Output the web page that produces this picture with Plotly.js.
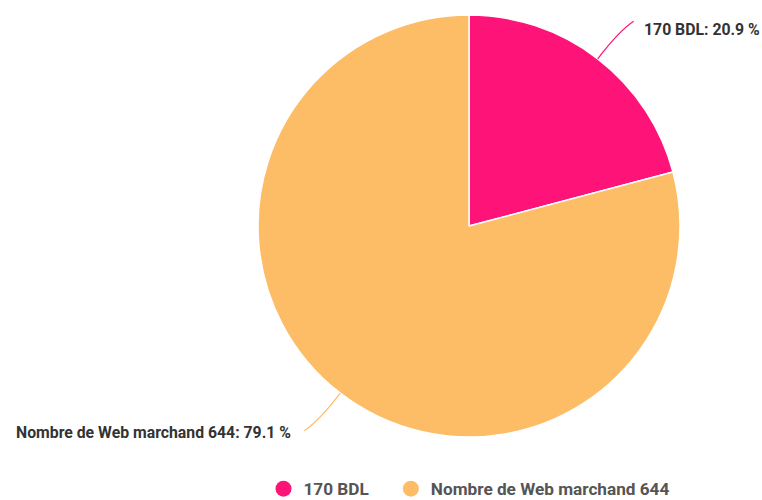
<!DOCTYPE html>
<html><head><meta charset="utf-8">
<script src="https://cdn.plot.ly/plotly-3.0.1.min.js"></script>
<style>html,body{margin:0;padding:0;background:#fff;}#chart{width:762px;height:500px;}</style>
</head><body><div id="chart"></div>
<script>
const labels = ["170 BDL", "Nombre de Web marchand 644"];
const values = [170, 644];
const colors = ["#FE1478", "#FDBD66"];

const W = 762, H = 500;
const M = {l: 258, r: 82, t: 15, b: 63, autoexpand: false};
const pw = W - M.l - M.r, ph = H - M.t - M.b;
const cx = M.l + pw / 2, cy = M.t + ph / 2, R = Math.min(pw, ph) / 2;
const px = x => (x - M.l) / pw;
const py = y => 1 - (y - M.t) / ph;

const total = values.reduce((a, b) => a + b, 0);
const shapes = [], annotations = [];
let cum = 0;
values.forEach((v, i) => {
  const frac = v / total;
  const mid = (cum + frac / 2) * 2 * Math.PI;
  cum += frac;
  const s = Math.sin(mid), c = Math.cos(mid);
  const x0 = cx + R * s, y0 = cy - R * c;
  const xc = cx + (R + 36) * s, yc = cy - (R + 36) * c;
  const right = s >= 0;
  const xe = xc + (right ? 14 : -14), ye = yc + (right ? -9 : 9);
  shapes.push({
    type: "path", xref: "paper", yref: "paper",
    path: `M ${px(x0)},${py(y0)} Q ${px(xc)},${py(yc)} ${px(xe)},${py(ye)}`,
    line: {color: colors[i], width: 1.2}
  });
  const pct = (frac * 100).toFixed(1);
  annotations.push({
    xref: "paper", yref: "paper", x: px(xe + (right ? 8 : -11)), y: py(ye + (right ? 8 : 2)),
    xanchor: right ? "left" : "right", yanchor: "middle", showarrow: false,
    text: `<b>${labels[i]}: ${pct} %</b>`,
    font: {family: "Roboto", size: 15.8, color: "#333333"}
  });
});

const traces = [{
  type: "pie", labels: labels, values: values, sort: false, direction: "clockwise",
  rotation: 0, textinfo: "none", hoverinfo: "label+value+percent", showlegend: false,
  marker: {colors: colors, line: {color: "#ffffff", width: 1.5}}
}];
labels.forEach((l, i) => traces.push({
  type: "scatter", mode: "markers", x: [null], y: [null],
  name: "<b>" + l + "</b>" + (i === 0 ? "&nbsp;&nbsp;&nbsp;&nbsp;" : ""),
  marker: {symbol: "circle", size: 18, color: colors[i]}, showlegend: true, hoverinfo: "skip"
}));

Plotly.newPlot("chart", traces, {
  width: W, height: H, margin: M, paper_bgcolor: "#ffffff", plot_bgcolor: "#ffffff",
  xaxis: {visible: false}, yaxis: {visible: false},
  showlegend: true,
  legend: {orientation: "h", x: px(469), xanchor: "center", y: py(489), yanchor: "middle",
    font: {family: "Roboto", size: 17.2, color: "#555555"}, itemsizing: "trace", tracegroupgap: 0},
  shapes: shapes, annotations: annotations
}, {displayModeBar: false, staticPlot: true});
</script></body></html>
